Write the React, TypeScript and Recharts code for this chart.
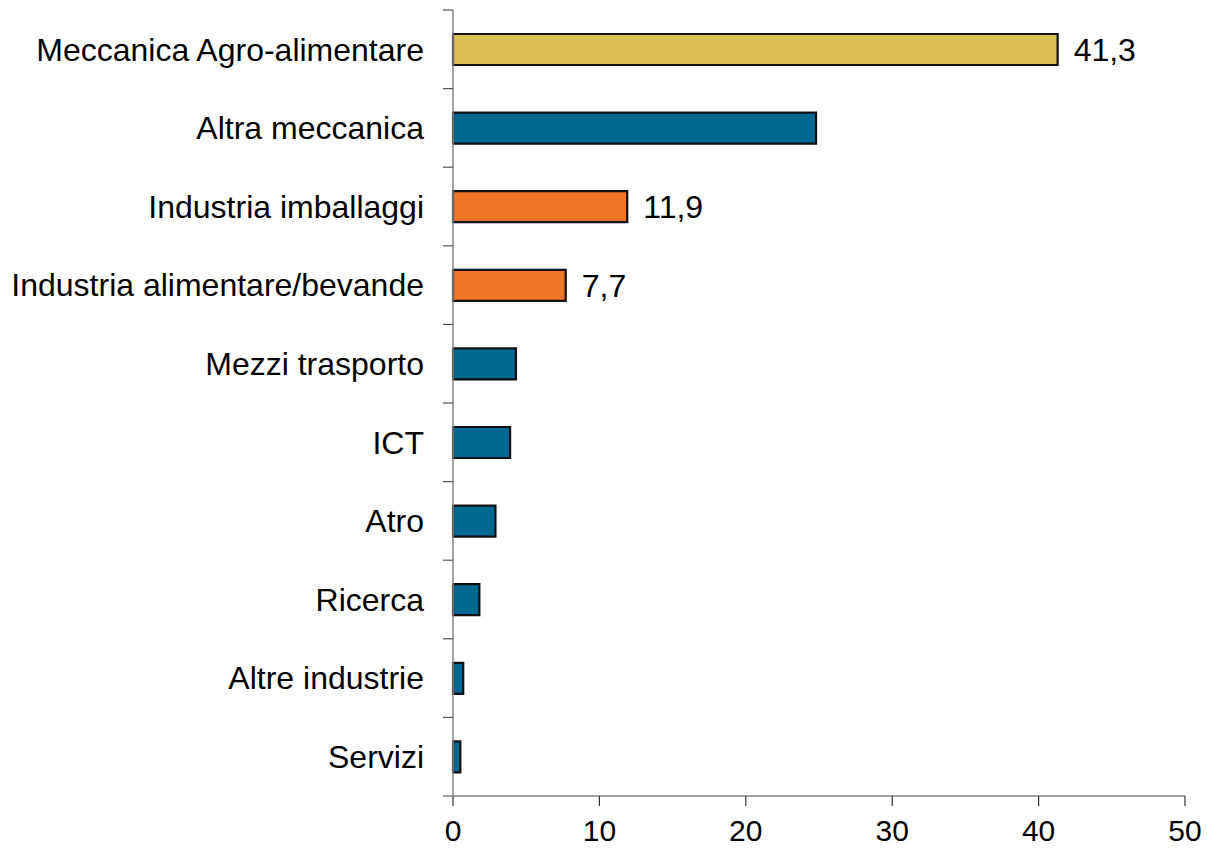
import React from 'react';
import { BarChart, Bar, XAxis, YAxis, Cell, LabelList } from 'recharts';

const categories = [
  'Meccanica Agro-alimentare',
  'Altra meccanica',
  'Industria imballaggi',
  'Industria alimentare/bevande',
  'Mezzi trasporto',
  'ICT',
  'Atro',
  'Ricerca',
  'Altre industrie',
  'Servizi',
];
const values = [41.3, 24.8, 11.9, 7.7, 4.3, 3.9, 2.9, 1.8, 0.7, 0.5];
const valueLabels = ['41,3', '', '11,9', '7,7', '', '', '', '', '', ''];
const groups = ['agro', 'other', 'food', 'food', 'other', 'other', 'other', 'other', 'other', 'other'];
const xTicks = [0, 10, 20, 30, 40, 50];

const groupColors: Record<string, string> = {
  agro: '#DBBF52',
  other: '#006891',
  food: '#F07526',
};

const data = categories.map((name, i) => ({
  name,
  value: values[i],
  label: valueLabels[i],
  group: groups[i],
}));

const W = 1207;
const H = 848;
const MARGIN = { top: 10, right: 22, bottom: 0, left: 0 };
const X_AXIS_H = 52;
const Y_AXIS_W = 453;
const BAND = (H - MARGIN.top - MARGIN.bottom - X_AXIS_H) / categories.length;
const FONT = '"Liberation Sans", Arial, Helvetica, sans-serif';

const YTick = (props: any) => {
  const { x, y, payload, index } = props;
  const half = BAND / 2;
  return (
    <g>
      <line x1={x + 19} x2={x + 29} y1={y - half} y2={y - half} stroke="#555" strokeWidth={1.2} />
      {index === categories.length - 1 && (
        <line x1={x + 19} x2={x + 29} y1={y + half} y2={y + half} stroke="#868686" strokeWidth={1.5} />
      )}
      <text x={x} y={y} dy="0.355em" textAnchor="end" fontSize={32} fill="#000" fontFamily={FONT}>
        {payload.value}
      </text>
    </g>
  );
};

export default function App() {
  return (
    <div style={{ position: 'absolute', left: 0, top: 0, width: W, height: H, background: '#fff' }}>
      <BarChart width={W} height={H} data={data} layout="vertical" margin={MARGIN}>
        <XAxis
          type="number"
          domain={[0, 50]}
          ticks={xTicks}
          interval={0}
          height={X_AXIS_H}
          axisLine={{ stroke: '#868686', strokeWidth: 1.5 }}
          tickLine={{ stroke: '#333', strokeWidth: 1.2 }}
          tickSize={10}
          tickMargin={14}
          tick={{ fontSize: 30, fill: '#000', fontFamily: FONT }}
        />
        <YAxis
          type="category"
          dataKey="name"
          width={Y_AXIS_W}
          interval={0}
          axisLine={{ stroke: '#868686', strokeWidth: 1.5 }}
          tickLine={false}
          tickSize={10}
          tickMargin={19}
          tick={<YTick />}
        />
        <Bar dataKey="value" barSize={31} stroke="#111" strokeWidth={2.2} isAnimationActive={false}>
          {data.map((d, i) => (
            <Cell key={i} fill={groupColors[d.group]} />
          ))}
          <LabelList
            dataKey="label"
            position="right"
            offset={16}
            fontSize={32}
            fill="#000"
            fontFamily={FONT}
          />
        </Bar>
      </BarChart>
    </div>
  );
}
